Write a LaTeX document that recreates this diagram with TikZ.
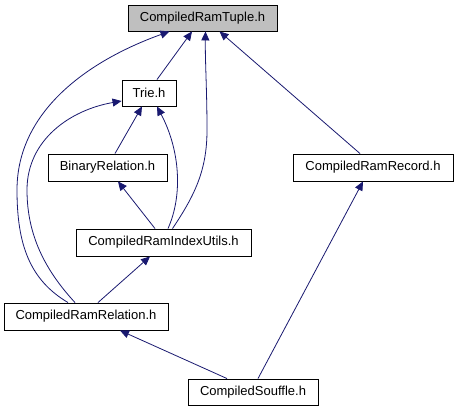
\documentclass[tikz,border=0pt]{standalone}
\usepackage{fontspec}
\setmainfont{Liberation Sans}
\usetikzlibrary{arrows.meta}
\definecolor{edgeblue}{HTML}{191970}
\definecolor{boxgray}{HTML}{BFBFBF}
\begin{document}
\begin{tikzpicture}[x=1pt,y=-1pt,
  box/.style={draw=black, line width=0.9pt, fill=white, minimum height=26pt, inner sep=0pt, font=\fontsize{13}{15}\selectfont},
  dep/.style={draw=edgeblue, line width=0.8pt, -{Triangle[length=9pt,width=8pt]}, fill=none}]
\useasboundingbox[fill=white] (0,0) rectangle (457,411);
\node[box, fill=boxgray, minimum width=149pt] (tuple) at (202.5,18) {CompiledRamTuple.h};
\node[box, minimum width=54pt] (trie) at (149,93) {Trie.h};
\node[box, minimum width=119pt, minimum height=27pt] (br) at (107.5,167.5) {BinaryRelation.h};
\node[box, minimum width=175pt, minimum height=27pt] (criu) at (163.5,242.5) {CompiledRamIndexUtils.h};
\node[box, minimum width=160pt, minimum height=27pt] (rec) at (373,167.5) {CompiledRamRecord.h};
\node[box, minimum width=164pt, minimum height=27pt] (crr) at (86,316.5) {CompiledRamRelation.h};
\node[box, minimum width=130pt] (cs) at (253,392) {CompiledSouffle.h};
% edges
\draw[dep] ([xshift=8pt]trie.north) -- ([xshift=-10.5pt]tuple.south);
\draw[dep] ([xshift=-18pt]crr.north) .. controls (30,280) and (17,245) .. (17,190) .. controls (17,110) and (90,60) .. ([xshift=-33pt]tuple.south);
\draw[dep] ([xshift=-11pt]crr.north) .. controls (45,270) and (27,235) .. (27,190) .. controls (27,140) and (70,110) .. ([yshift=-8pt]trie.west);
\draw[dep] ([xshift=7.5pt]br.north) -- ([xshift=-7pt]trie.south);
\draw[dep] ([xshift=4.5pt]criu.north) .. controls (183,195) and (180,150) .. ([xshift=8pt]trie.south);
\draw[dep] ([xshift=9pt]criu.north) .. controls (195,195) and (207,170) .. (207,130) .. controls (207,90) and (205,60) .. ([xshift=3pt]tuple.south);
\draw[dep] ([xshift=-13pt]rec.north) -- ([xshift=17pt]tuple.south);
\draw[dep] ([xshift=-8.5pt]criu.north) -- ([xshift=10.5pt]br.south);
\draw[dep] ([xshift=12pt]crr.north) -- ([xshift=-13.5pt]criu.south);
\draw[dep] ([xshift=-26pt]cs.north) -- ([xshift=34pt]crr.south);
\draw[dep] ([xshift=5pt]cs.north) -- ([xshift=-10pt]rec.south);
\end{tikzpicture}
\end{document}
